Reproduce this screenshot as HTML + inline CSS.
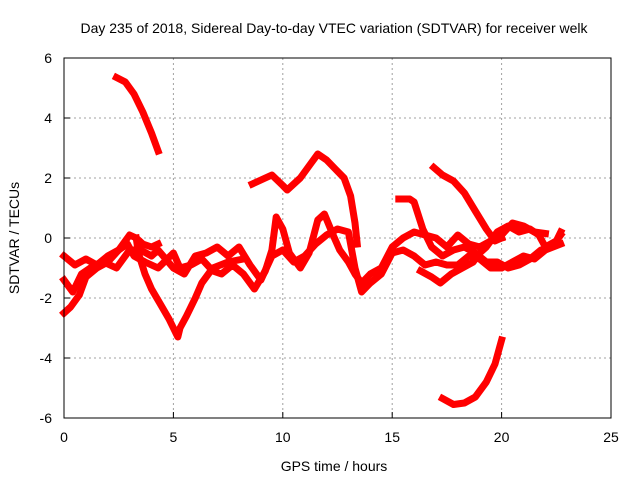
<!DOCTYPE html>
<html><head><meta charset="utf-8"><style>
body{margin:0;background:#fff}
svg{display:block;font-family:"Liberation Sans",sans-serif}
</style></head><body>
<svg id="chart" width="640" height="480" viewBox="0 0 640 480">
<rect width="640" height="480" fill="#fff"/>
<text x="334" y="33" font-size="14" text-anchor="middle">Day 235 of 2018, Sidereal Day-to-day VTEC variation (SDTVAR) for receiver welk</text>
<text x="334" y="471" font-size="14" text-anchor="middle">GPS time / hours</text>
<text transform="translate(19,238) rotate(-90)" font-size="14" text-anchor="middle">SDTVAR / TECUs</text>
<g id="grid"></g><g id="ticks"></g><g id="series"></g>
<rect x="64" y="58" width="547" height="360" fill="none" stroke="#000" stroke-width="1"/>
</svg>
<script>
const xTicks=[0,5,10,15,20,25];
const yTicks=[-6,-4,-2,0,2,4,6];
const track1=[[2.4,5.35],[2.8,5.2],[3.2,4.8],[3.6,4.2],[4.0,3.5],[4.3,2.9]];
const track2=[[8.6,1.8],[9.2,2.0],[9.5,2.1],[10.0,1.75],[10.2,1.6],[10.8,2.0],[11.3,2.5],[11.6,2.8],[12.0,2.6],[12.4,2.3],[12.8,2.0],[13.1,1.4],[13.3,0.5],[13.4,-0.2]];
const track3=[[16.9,2.35],[17.3,2.1],[17.8,1.9],[18.3,1.5],[18.8,0.9],[19.3,0.3],[19.7,-0.1],[20.0,0.0]];
const track4=[[17.3,-5.35],[17.8,-5.55],[18.3,-5.5],[18.8,-5.3],[19.3,-4.8],[19.7,-4.2],[20.0,-3.4]];
const track5=[[0,-2.5],[0.3,-2.3],[0.7,-1.9],[1.0,-1.3],[1.5,-1.0],[2.0,-0.8],[2.5,-0.4],[3.0,0.1],[3.3,0.0],[3.6,-0.2],[4.0,-0.3],[4.3,-0.2]];
const track6=[[3.3,0.0],[3.4,-0.5],[3.7,-1.2],[4.0,-1.7],[4.4,-2.2],[4.8,-2.7],[5.2,-3.3],[5.3,-3.0],[5.6,-2.6],[6.0,-2.0],[6.3,-1.5],[6.8,-1.0],[7.5,-0.8],[8.2,-0.7]];
const track7=[[0,-0.6],[0.5,-0.9],[1.0,-0.7],[1.5,-0.9],[2.0,-0.6],[2.5,-0.4],[2.9,-0.2],[3.2,-0.6],[3.7,-0.8],[4.3,-1.0],[5.0,-0.5],[5.3,-1.0],[5.8,-0.9],[6.3,-0.7],[6.8,-1.1],[7.2,-1.2],[7.7,-0.9],[8.2,-1.2],[8.7,-1.7],[9.2,-1.1],[9.5,-0.4],[9.7,0.7],[10.0,0.3],[10.3,-0.5],[10.8,-1.0],[11.2,-0.5],[11.6,0.6],[11.9,0.8],[12.3,0.1],[12.6,-0.4],[13.0,-0.8],[13.3,-1.2],[13.6,-1.5],[14.0,-1.2],[14.5,-1.0],[15.0,-0.3],[15.5,0.0],[16.0,0.2],[16.5,0.1],[17.0,0.0],[17.5,-0.3],[18.0,0.1],[18.5,-0.2],[19.0,-0.3],[19.5,-0.1],[20.0,0.0]];
const track8=[[0,-1.4],[0.4,-1.8],[0.8,-1.2],[1.2,-1.0],[1.8,-0.8],[2.4,-1.0],[3.0,-0.4],[3.5,-0.4],[4.0,-0.6],[4.3,-0.4],[5.0,-1.0],[5.5,-1.2],[6.0,-0.6],[6.5,-0.5],[7.0,-0.3],[7.5,-0.6],[8.0,-0.3],[8.5,-0.9],[9.0,-1.4],[9.5,-0.6],[10.0,-0.4],[10.5,-0.8],[11.0,-0.6],[11.5,-0.2],[12.0,0.1],[12.5,0.3],[13.0,0.2],[13.3,-1.0],[13.6,-1.8],[14.0,-1.5],[14.5,-1.2],[15.0,-0.5],[15.5,-0.4],[16.0,-0.6],[16.5,-0.9],[17.0,-0.8],[17.5,-0.9],[18.0,-0.9],[18.5,-0.6],[19.0,-0.7],[19.5,-1.0],[20.0,-1.0],[20.5,-0.8],[21.0,-0.6],[21.5,-0.7],[22.0,-0.4],[22.7,-0.2]];
const track9=[[15.3,1.3],[15.8,1.3],[16.0,1.2],[16.4,0.3],[16.8,-0.3],[17.3,-0.6],[17.8,-0.4],[18.3,-0.3],[18.8,-0.5],[19.3,-0.8],[19.8,-0.8],[20.3,-1.0],[20.8,-0.9],[21.3,-0.7],[21.8,-0.4],[22.3,-0.3],[22.7,0.1]];
const track10=[[16.3,-1.1],[16.8,-1.3],[17.2,-1.5],[17.7,-1.2],[18.2,-1.0],[18.7,-0.8],[19.0,-0.5],[19.3,-0.3],[19.8,0.2],[20.3,0.4],[20.8,0.2],[21.3,0.3],[21.7,0.1],[22.0,-0.3],[22.5,-0.1],[22.7,0.2]];
const track11=[[20.0,0.1],[20.5,0.5],[21.0,0.4],[21.5,0.2],[22.0,0.15]];
const tracks=[track1,track2,track3,track4,track5,track6,track7,track8,track9,track10,track11];
const NS="http://www.w3.org/2000/svg";
function xs(v){return 64+v*21.88;}
function ys(v){return 238-v*30;}
function mk(tag,attrs,parent){const e=document.createElementNS(NS,tag);for(const k in attrs)e.setAttribute(k,attrs[k]);parent.appendChild(e);return e;}
const grid=document.getElementById('grid'),ticks=document.getElementById('ticks'),ser=document.getElementById('series');
xTicks.forEach(t=>{
 const x=xs(t);
 if(t>0&&t<25){const g=mk('line',{x1:x,x2:x,y1:58,y2:418,stroke:'#a0a0a0','stroke-dasharray':'2,3'},grid);
 
 }
 const l=mk('line',{x1:x,x2:x,y1:418,y2:412,stroke:'#000'},ticks);
 
 
 const tx=mk('text',{x:x,y:442,'font-size':14,'text-anchor':'middle'},ticks);tx.textContent=t;
 
 
});
yTicks.forEach(t=>{
 const y=ys(t);
 if(t>-6&&t<6){const g=mk('line',{x1:64,x2:611,y1:y,y2:y,stroke:'#a0a0a0','stroke-dasharray':'2,3'},grid);
 
 }
 const l=mk('line',{x1:64,x2:70,y1:y,y2:y,stroke:'#000'},ticks);
 
 
 const tx=mk('text',{x:52,y:y+5,'font-size':14,'text-anchor':'end'},ticks);tx.textContent=t;
 
 
});
tracks.forEach((tr,i)=>{
 const pts=tr.map(p=>xs(p[0]).toFixed(1)+','+ys(p[1]).toFixed(1)).join(' ');
 const pl=mk('polyline',{points:pts,fill:'none',stroke:'#ff0000','stroke-width':7,'stroke-linejoin':'round','stroke-linecap':'square'},ser);
 
 
});
</script>
</body></html>
